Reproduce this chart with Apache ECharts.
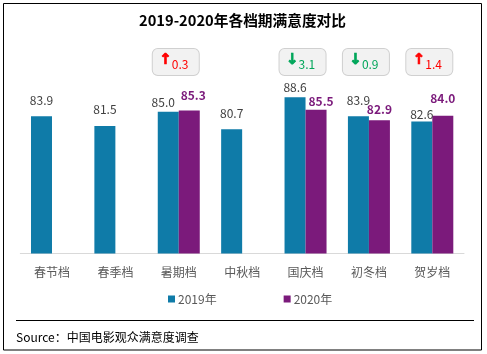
<!DOCTYPE html>
<html><head><meta charset="utf-8">
<style>html,body{margin:0;padding:0;background:#fff}#c{width:487px;height:354px}</style>
<script src="https://cdn.jsdelivr.net/npm/echarts@6/dist/echarts.min.js"></script>
</head><body><div id="c"></div>
<script>
const categories = ['春节档','春季档','暑期档','中秋档','国庆档','初冬档','贺岁档'];
const values2019 = [83.9,81.5,85.0,80.7,88.6,83.9,82.6];
const values2020 = [null,null,85.3,null,85.5,82.9,84.0];
const changes = [null,null,0.3,null,-3.1,-0.9,1.4];
const badgeLevel = 95.3;
const offsets2019 = [[0,-4],[0,-4],[-5,3],[0,-4],[0,2],[0,-4],[0,5]];
const offsets2020 = [null,null,[4,-3],null,[5,4],[0,1],[0,-5]];
const FONT = '"Noto Sans CJK SC","Noto Sans",sans-serif';
const BLUE = '#0F7BA8', PURPLE = '#7B1A7B', RED = '#FF0000', GREEN = '#00A65A';

const chart = echarts.init(document.getElementById('c'), null, {renderer:'canvas'});
chart.setOption({
  animation:false,
  backgroundColor:'#fff',
  textStyle:{fontFamily:FONT},
  title:{text:'2019-2020年各档期满意度对比',left:237.5,top:8,textAlign:'center',
    textStyle:{fontSize:14.7,fontWeight:'bold',color:'#000',fontFamily:FONT}},
  legend:{data:['2019年','2020年'],left:168,top:293,itemWidth:7,itemHeight:7,itemGap:67,
    icon:'rect',padding:0,
    textStyle:{fontSize:12,color:'#595959',padding:[0,0,0,-2],fontFamily:FONT}},
  grid:{left:20.3,top:51,width:443.7,height:202.5,containLabel:false},
  xAxis:{type:'category',data:categories,
    axisLine:{lineStyle:{color:'#d9d9d9',width:1}},axisTick:{show:false},
    axisLabel:{color:'#595959',fontSize:12,margin:13,fontFamily:FONT}},
  yAxis:{type:'value',min:50,max:100,show:false,splitLine:{show:false}},
  series:[
    {name:'2019年',type:'bar',barWidth:21,barGap:0,itemStyle:{color:BLUE},
     data:values2019.map((v,i)=>({value:v,label:{offset:offsets2019[i]}})),
     label:{show:true,position:'top',distance:6,color:'#404040',fontSize:12,fontFamily:FONT,
       formatter:p=>p.value.toFixed(1)}},
    {name:'2020年',type:'bar',barWidth:21,barGap:0,itemStyle:{color:PURPLE},
     data:values2020.map((v,i)=>v==null?'-':({value:v,label:{offset:offsets2020[i]}})),
     label:{show:true,position:'top',distance:6,color:PURPLE,fontSize:12,fontWeight:'bold',fontFamily:FONT,
       formatter:p=>p.value.toFixed(1)}},
    {name:'变化',type:'scatter',symbolSize:1,itemStyle:{color:'rgba(0,0,0,0)',opacity:1},silent:true,z:5,
     data:changes.map((c,i)=>c==null?'-':({value:[i,badgeLevel],change:c})),
     label:{show:true,position:'inside',offset:[-3,-8],opacity:1,
       backgroundColor:'#f2f2f2',borderColor:'#d0d0d0',borderWidth:1,borderRadius:5,
       width:46,height:26,align:'center',verticalAlign:'middle',lineHeight:26,
       formatter:p=>{const c=p.data.change;const k=c>0?'u':'d';
         return '{'+k+'a|'+(c>0?'↑':'↓')+'}{'+k+'n|'+Math.abs(c).toFixed(1)+'}';},
       rich:{
         ua:{color:RED,fontSize:15,fontWeight:'bold',padding:[0,0,3,0],fontFamily:'DejaVu Sans',textBorderColor:RED,textBorderWidth:0.7},
         da:{color:GREEN,fontSize:15,fontWeight:'bold',padding:[0,0,3,0],fontFamily:'DejaVu Sans',textBorderColor:GREEN,textBorderWidth:0.7},
         un:{color:RED,fontSize:12,padding:[4,4,0,0],fontFamily:FONT},
         dn:{color:GREEN,fontSize:12,padding:[4,4,0,0],fontFamily:FONT}
       }}}
  ],
  graphic:[
    {type:'rect',shape:{x:3.5,y:3.5,width:478,height:346.5},style:{fill:'none',stroke:'#000',lineWidth:1},silent:true},
    {type:'line',shape:{x1:16,y1:320.5,x2:474,y2:320.5},style:{stroke:'#000',lineWidth:1},silent:true},
    {type:'text',x:16,y:337,style:{text:'Source：中国电影观众满意度调查',fill:'#000',fontSize:12,fontFamily:FONT,textVerticalAlign:'middle'},silent:true}
  ]
});
</script></body></html>
